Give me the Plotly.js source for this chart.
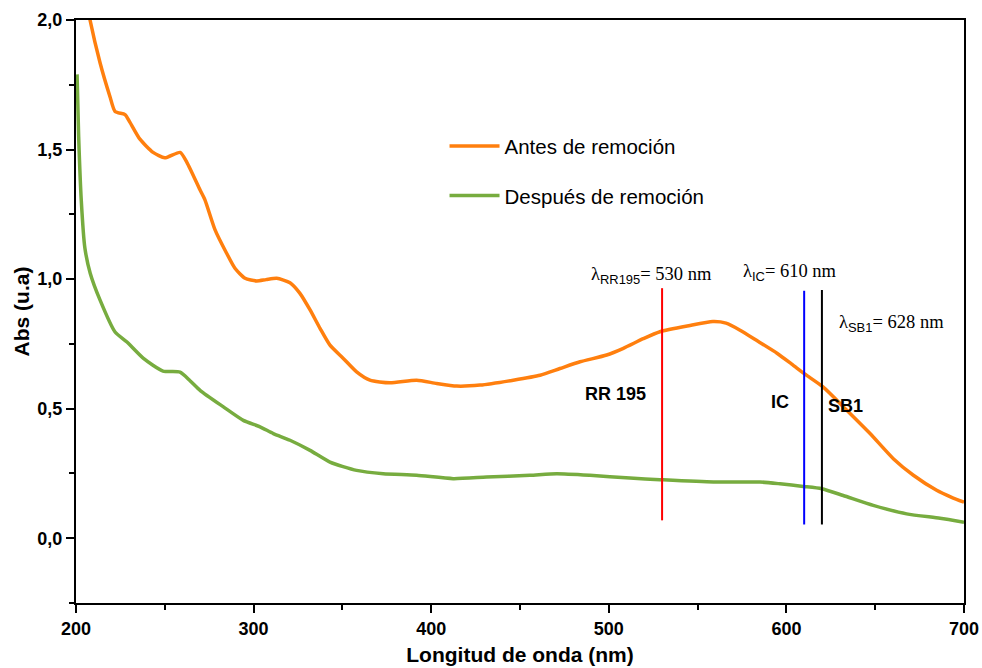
<!DOCTYPE html>
<html>
<head>
<meta charset="utf-8">
<script src="https://cdn.plot.ly/plotly-3.0.1.min.js"></script>
<style>html,body{margin:0;padding:0;background:#fff;}#chart{width:982px;height:668px;}</style>
</head>
<body>
<div id="chart"></div>
<script>
// Antes de remoción (orange)
const antesX = [204, 207.9, 213.5, 219.1, 222, 227.6, 230.4, 236, 243.4, 250, 258.6, 262.5, 269.8, 272.6, 278.3, 284.8, 289.5, 295.2, 301.7, 307, 313, 320.5, 326.1, 331.8, 337.4, 343, 350.5, 358, 365.5, 376.8, 391.8, 403.1, 414.4, 427.5, 446.2, 461.3, 472.5, 483.8, 498.8, 508.2, 519.4, 528.8, 545, 558.6, 566, 573.9, 584, 594.7, 603, 610.5, 620.6, 634, 647.1, 660.2, 671.5, 684.6, 693, 700];
const antesY = [2.15, 2.0, 1.836, 1.705, 1.647, 1.635, 1.605, 1.54, 1.489, 1.468, 1.489, 1.45, 1.345, 1.306, 1.19, 1.10, 1.042, 1.003, 0.993, 0.998, 1.003, 0.986, 0.945, 0.881, 0.81, 0.745, 0.694, 0.642, 0.61, 0.60, 0.61, 0.597, 0.587, 0.591, 0.61, 0.629, 0.655, 0.681, 0.707, 0.733, 0.77, 0.797, 0.82, 0.836, 0.83, 0.803, 0.76, 0.714, 0.672, 0.633, 0.584, 0.494, 0.404, 0.307, 0.243, 0.185, 0.158, 0.139];
// Después de remoción (green)
const despuesX = [200.6, 201.5, 203, 205, 208, 213.5, 222, 228.7, 237.8, 249, 258.6, 264.2, 270, 283, 294.2, 303.6, 311.1, 320.5, 331.8, 343, 358, 373, 391.8, 412.4, 431.2, 455.6, 470.7, 489.4, 511.9, 528.8, 558.9, 585.1, 596.4, 609.5, 619.9, 632, 648.9, 667.7, 686.5, 700];
const despuesY = [1.79, 1.55, 1.30, 1.12, 1.023, 0.92, 0.796, 0.757, 0.695, 0.645, 0.641, 0.608, 0.57, 0.507, 0.455, 0.43, 0.404, 0.378, 0.339, 0.294, 0.262, 0.249, 0.243, 0.23, 0.236, 0.243, 0.249, 0.243, 0.232, 0.226, 0.217, 0.217, 0.21, 0.2, 0.191, 0.165, 0.127, 0.094, 0.077, 0.062];
// Reference wavelength markers
const markerNames = ['RR 195', 'IC', 'SB1'];
const markerX = [530, 610, 620];
const markerTop = [0.965, 0.955, 0.958];
const markerBottom = [0.069, 0.053, 0.053];
const markerColors = ['#FF0000', '#0000FF', '#000000'];
const xTicks = [200, 300, 400, 500, 600, 700];
const yTicks = [0.0, 0.5, 1.0, 1.5, 2.0];

const traces = [
  {x: antesX, y: antesY, type: 'scatter', mode: 'lines', name: 'Antes de remoción', legendgroup: 'a',
   line: {color: '#FF7F0E', width: 3.5, shape: 'spline', smoothing: 0.6}},
  {x: despuesX, y: despuesY, type: 'scatter', mode: 'lines', name: 'Después de remoción', legendgroup: 'b',
   line: {color: '#77AC3F', width: 3.5, shape: 'spline', smoothing: 0.6}}
];
for (let i = 0; i < markerX.length; i++) {
  traces.push({x: [markerX[i], markerX[i]], y: [markerBottom[i], markerTop[i]], type: 'scatter', mode: 'lines',
    name: markerNames[i], showlegend: false, hoverinfo: 'skip', line: {color: markerColors[i], width: 2}});
}

const serif = 'Liberation Serif, Times New Roman, serif';
const sans = 'Liberation Sans, Arial, sans-serif';
function lam(sub, rest) {
  return 'λ<sub><span style="font-family:' + sans + '">' + sub + '</span></sub>' + rest;
}
const annotations = [
  {x: 523.8, y: 1.015, text: lam('RR195', '= 530 nm')},
  {x: 602, y: 1.027, text: lam('IC', '= 610 nm')},
  {x: 659, y: 0.83, text: lam('SB1', '= 628 nm')}
].map(a => Object.assign(a, {xref: 'x', yref: 'y', showarrow: false, font: {family: serif, size: 18.5, color: '#000'}}));
[
  {x: 503.5, y: 0.556, text: markerNames[0]},
  {x: 596.4, y: 0.525, text: markerNames[1]},
  {x: 633, y: 0.51, text: markerNames[2]}
].forEach(a => annotations.push(Object.assign(a, {xref: 'x', yref: 'y', showarrow: false,
  font: {family: sans, size: 18, color: '#000', weight: 'bold'}})));

const tickFont = {family: sans, size: 18, color: '#000', weight: 'bold'};
const titleFont = {family: sans, size: 21, color: '#000', weight: 'bold'};
const layout = {
  width: 982, height: 668,
  margin: {l: 76, r: 18, t: 20, b: 65},
  paper_bgcolor: '#fff', plot_bgcolor: '#fff',
  separators: ',.',
  showlegend: true,
  legend: {x: 0.415, y: 0.818, xanchor: 'left', yanchor: 'top', bgcolor: 'rgba(0,0,0,0)',
    font: {family: sans, size: 20.5, color: '#000'}, itemwidth: 50, tracegroupgap: 20, traceorder: 'grouped'},
  xaxis: {range: [200, 700], tickvals: xTicks, ticks: 'outside', ticklen: 8, tickwidth: 2, tickcolor: '#000',
    minor: {dtick: 50, tick0: 0, ticks: 'outside', ticklen: 5, tickwidth: 2, tickcolor: '#000'},
    showline: true, linewidth: 2, linecolor: '#000', mirror: true, showgrid: false, zeroline: false,
    tickfont: tickFont,
    title: {text: 'Longitud de onda (nm)', font: titleFont, standoff: 10}},
  yaxis: {range: [-0.25, 2.0], tickvals: yTicks, tickformat: '.1f', ticks: 'outside', ticklen: 8, tickwidth: 2, tickcolor: '#000',
    minor: {dtick: 0.25, tick0: 0, ticks: 'outside', ticklen: 5, tickwidth: 2, tickcolor: '#000'},
    showline: true, linewidth: 2, linecolor: '#000', mirror: true, showgrid: false, zeroline: false,
    tickfont: tickFont,
    title: {text: 'Abs (u.a)', font: titleFont, standoff: 2}},
  annotations: annotations
};
Plotly.newPlot('chart', traces, layout, {displayModeBar: false, staticPlot: true});
</script>
</body>
</html>
